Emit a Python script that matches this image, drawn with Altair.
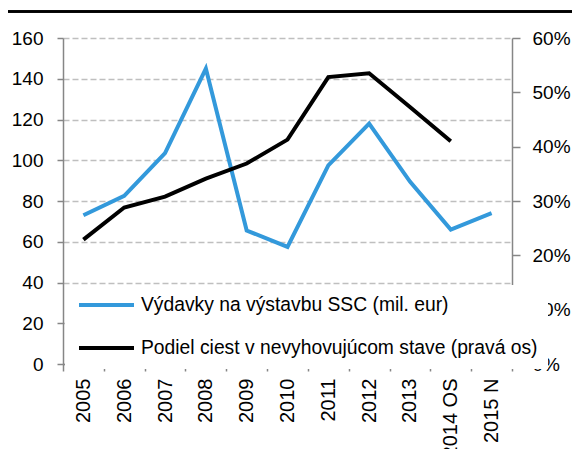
import altair as alt
import pandas as pd

years = ["2005", "2006", "2007", "2008", "2009", "2010", "2011", "2012", "2013", "2014 OS", "2015 N"]
spend = [73, 82.5, 103.5, 145, 65.5, 57.5, 97.5, 118, 89.5, 66, 74]
share = [0.229, 0.288, 0.308, 0.341, 0.369, 0.413, 0.528, 0.535, 0.473, 0.410, None]

label_spend = "Výdavky na výstavbu SSC (mil. eur)"
label_share = "Podiel ciest v nevyhovujúcom stave (pravá os)"
series = [label_spend, label_share]
colors = ["#3399DB", "#000000"]

left_ticks = [0, 20, 40, 60, 80, 100, 120, 140, 160]
right_ticks = [0, 0.1, 0.2, 0.3, 0.4, 0.5, 0.6]

df_spend = pd.DataFrame({"year": years, "value": spend, "series": label_spend})
df_share = pd.DataFrame({"year": years, "value": share, "series": label_share}).dropna()

FONT = "Liberation Sans"
AXIS_GREY = "#868686"

x_enc = alt.X(
    "year:N",
    sort=years,
    scale=alt.Scale(type="band", paddingInner=0, paddingOuter=0),
    axis=alt.Axis(
        title=None,
        labelAngle=-90,
        labelAlign="right",
        labelBaseline="middle",
        labelFontSize=20,
        labelFont=FONT,
        labelColor="black",
        labelPadding=7,
        tickSize=7,
        tickColor=AXIS_GREY,
        tickWidth=1.5,
        tickBand="extent",
        domainColor=AXIS_GREY,
        domainWidth=1.5,
        grid=False,
    ),
)

color_enc = alt.Color(
    "series:N",
    scale=alt.Scale(domain=series, range=colors),
    legend=alt.Legend(
        title=None,
        orient="none",
        legendX=2,
        legendY=247,
        fillColor="white",
        padding=10,
        symbolType="stroke",
        symbolSize=3025,
        symbolStrokeWidth=4,
        symbolOffset=2,
        clipHeight=20,
        rowPadding=22,
        labelFontSize=19.3,
        labelFont=FONT,
        labelColor="black",
        labelLimit=600,
        labelOffset=5,
        labelExpr="datum.label + '  '",
        zindex=3,
    ),
)

spend_line = alt.Chart(df_spend).mark_line(strokeWidth=4).encode(
    x=x_enc,
    y=alt.Y(
        "value:Q",
        scale=alt.Scale(domain=[0, 160], nice=False),
        axis=alt.Axis(
            title=None,
            values=left_ticks,
            labelFontSize=19,
            labelFont=FONT,
            labelColor="black",
            labelPadding=14,
            tickSize=6,
            tickColor=AXIS_GREY,
            tickWidth=1.5,
            domainColor=AXIS_GREY,
            domainWidth=1.5,
            grid=True,
            gridColor="#BFBFBF",
            gridDash=[6, 3],
            gridWidth=1.5,
        ),
    ),
    color=color_enc,
)

share_line = alt.Chart(df_share).mark_line(strokeWidth=4).encode(
    x=x_enc,
    y=alt.Y(
        "value:Q",
        scale=alt.Scale(domain=[0, 0.6], nice=False),
        axis=alt.Axis(
            title=None,
            orient="right",
            values=right_ticks,
            format=".0%",
            labelFontSize=19,
            labelFont=FONT,
            labelColor="black",
            labelPadding=12,
            tickSize=8,
            tickColor=AXIS_GREY,
            tickWidth=1.5,
            domainColor=AXIS_GREY,
            domainWidth=1.5,
            grid=False,
        ),
    ),
    color=color_enc,
)

top_rule = alt.Chart(df_spend).mark_rule(color="black", strokeWidth=1.5).encode(
    x=alt.value(-55), x2=alt.value(509), y=alt.value(-26.5)
)

chart = (
    alt.layer(spend_line, share_line, top_rule)
    .resolve_scale(y="independent")
    .properties(
        width=449,
        height=326,
        autosize=alt.AutoSizeParams(type="none"),
        padding={"left": 55, "top": 30, "right": 60, "bottom": 85},
    )
    .configure_view(stroke=None)
)

chart.save("out.html", embed_options={"renderer": "svg", "actions": False})
